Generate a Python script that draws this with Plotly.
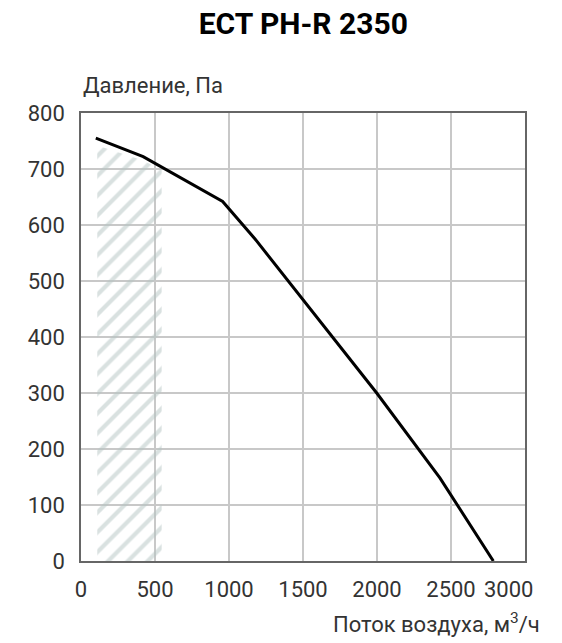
import plotly.graph_objects as go

# Кривая давления вентилятора
flow = [100, 420, 957, 1176, 1998, 2426, 2786]
pressure = [755, 722, 642, 575, 300, 148, 0]

# Заштрихованная зона (нерекомендуемый диапазон)
hatch_x = [110, 420, 545]
hatch_y = [742, 715, 698]

x_ticks = [0, 500, 1000, 1500, 2000, 2500, 3000]
x_ticktext = ["0", "500", "1000", "1500", "2000", "2500", "3000" + "\u00a0" * 6]
y_ticks = [0, 100, 200, 300, 400, 500, 600, 700, 800]

font_family = "Roboto"
text_color = "#333333"

fig = go.Figure()
fig.add_trace(go.Scatter(x=hatch_x, y=hatch_y, mode="lines", fill="tozeroy",
                         line=dict(width=0), fillcolor="rgba(0,0,0,0)",
                         fillpattern=dict(shape="/", fgcolor="#b3c3c1", bgcolor="rgba(0,0,0,0)",
                                          size=14, solidity=0.3),
                         hoverinfo="skip", showlegend=False))
fig.add_trace(go.Scatter(x=flow, y=pressure, mode="lines",
                         line=dict(color="black", width=3), showlegend=False))

# страница смещена на 8px (отступ body), поэтому размеры уменьшены
fig.update_layout(
    width=554, height=635,
    margin=dict(l=73, r=37, t=105, b=82),
    paper_bgcolor="white", plot_bgcolor="white",
    font=dict(family=font_family, size=22, color=text_color),
    title=dict(text="<b>ECT PH-R 2350</b>", x=0.533, xanchor="center", y=0.976, yanchor="middle",
               font=dict(family=font_family, size=30, color="black")),
)
fig.update_xaxes(range=[0, 3000], tickvals=x_ticks, ticktext=x_ticktext,
                 showgrid=True, gridcolor="#c8c8c8", gridwidth=1.5,
                 showline=True, linecolor="#666666", linewidth=1.5, mirror=True,
                 zeroline=False, ticks="", ticklabelstandoff=8, automargin=False,
                 ticklabeloverflow="allow",
                 tickfont=dict(size=22, color=text_color))
fig.update_yaxes(range=[0, 800], tickvals=y_ticks,
                 showgrid=True, gridcolor="#c8c8c8", gridwidth=1.5,
                 showline=True, linecolor="#666666", linewidth=1.5, mirror=True,
                 zeroline=False, ticks="", ticklabelstandoff=10, automargin=False,
                 ticklabeloverflow="allow",
                 tickfont=dict(size=22, color=text_color))

fig.add_annotation(text="Давление, Па", xref="paper", yref="paper", x=0, y=1,
                   xanchor="left", yanchor="middle", yshift=28, showarrow=False,
                   font=dict(family=font_family, size=22, color=text_color))
fig.add_annotation(text="Поток воздуха, м<sup>3</sup>/ч", xref="paper", yref="paper", x=1, y=0,
                   xanchor="right", yanchor="middle", xshift=17, yshift=-62, showarrow=False,
                   font=dict(family=font_family, size=22, color=text_color))

fig.write_html("out.html")
